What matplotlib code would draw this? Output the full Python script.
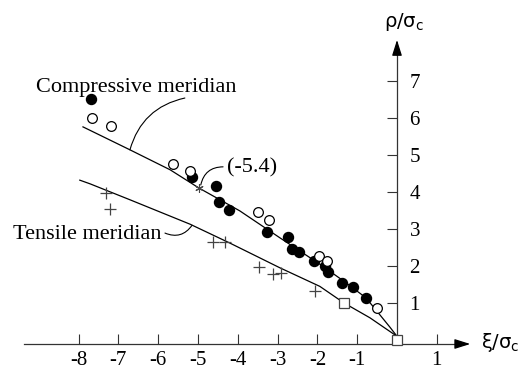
import matplotlib
matplotlib.use('Agg')
import matplotlib.pyplot as plt

# test points (xi/sigma_c, rho/sigma_c)
xi_filled = [-7.69, -5.15, -4.55, -4.47, -4.22, -3.27, -2.74, -2.64, -2.46,
             -2.09, -1.81, -1.73, -1.38, -1.11, -0.78]
rho_filled = [6.51, 4.41, 4.16, 3.73, 3.51, 2.92, 2.78, 2.46, 2.38,
              2.14, 2.00, 1.84, 1.54, 1.43, 1.14]

xi_open = [-7.66, -7.19, -5.63, -5.20, -3.49, -3.22, -1.96, -1.76, -0.50]
rho_open = [6.00, 5.78, 4.76, 4.57, 3.46, 3.24, 2.27, 2.14, 0.87]

xi_plus = [-7.31, -7.21, -4.62, -4.32, -3.47, -3.12, -2.92, -2.06]
rho_plus = [3.97, 3.54, 2.65, 2.65, 1.97, 1.78, 1.81, 1.32]

xi_square = [-1.33, 0.0]
rho_square = [1.0, 0.0]

xi_star = [-4.98]
rho_star = [4.11]

# meridians
xi_comp = [-7.89, -6.71, -5.70, -4.98, -3.95, -2.94, -1.94, -1.31, -0.78,
           -0.43, -0.18, 0.0]
rho_comp = [5.76, 5.14, 4.60, 4.11, 3.49, 2.76, 2.05, 1.57, 1.14,
            0.68, 0.35, 0.1]
xi_tens = [-7.97, -7.71, -6.71, -5.20, -4.20, -2.94, -1.94, -1.33, -0.68,
           -0.30, 0.0]
rho_tens = [4.32, 4.22, 3.79, 3.13, 2.62, 1.95, 1.45, 1.0, 0.60,
            0.32, 0.1]

x_ticks = [-8, -7, -6, -5, -4, -3, -2, -1, 1]
x_ticklabels = ['-8', '-7', '-6', '-5', '-4', '-3', '-2', '-1', '1']
y_ticks = [1, 2, 3, 4, 5, 6, 7]
y_ticklabels = ['1', '2', '3', '4', '5', '6', '7']

plt.rcParams['font.family'] = ['Liberation Serif', 'DejaVu Sans']

fig = plt.figure(figsize=(5.25, 3.71), dpi=100)
ax = fig.add_axes([0, 0, 1, 1])
ax.set_xlim(-397 / 39.8, 128 / 39.8)
ax.set_ylim(-31 / 37, 340 / 37)
ax.patch.set_visible(False)

axc = '#333333'
x_axis_y = -0.108

# axes through the origin
ax.spines['top'].set_visible(False)
ax.spines['left'].set_visible(False)
ax.spines['bottom'].set_position(('data', x_axis_y))
ax.spines['right'].set_position(('data', 0))
ax.spines['bottom'].set_bounds(-9.37, 1.7)
ax.spines['right'].set_bounds(x_axis_y, 7.9)
for s in ('bottom', 'right'):
    ax.spines[s].set_color(axc)
    ax.spines[s].set_linewidth(0.9)
ax.yaxis.tick_right()
ax.set_xticks(x_ticks)
ax.set_xticklabels(x_ticklabels, fontfamily='Liberation Serif')
ax.set_yticks(y_ticks)
ax.set_yticklabels(y_ticklabels, fontfamily='Liberation Serif')
ax.tick_params(axis='x', direction='in', length=7.5, width=0.8, color=axc,
               labelsize=15, pad=5)
ax.tick_params(axis='y', direction='in', length=7.5, width=0.8, color=axc,
               labelsize=15, pad=9)

arrow = dict(arrowstyle='-|>,head_length=0.95,head_width=0.3',
             mutation_scale=10, color='black', lw=0.9,
             shrinkA=0, shrinkB=0)
ax.annotate('', xy=(1.84, x_axis_y), xytext=(1.5, x_axis_y), arrowprops=arrow)
ax.annotate('', xy=(0, 8.11), xytext=(0, 7.7), arrowprops=arrow)

ax.text(2.1, -0.06, 'ξ/σ$_\\mathregular{c}$', family='DejaVu Sans',
        fontsize=14, va='center', ha='left')
ax.text(-0.33, 8.46, 'ρ/σ$_\\mathregular{c}$', family='DejaVu Sans',
        fontsize=14, va='baseline', ha='left')

# meridian curves
ax.plot(xi_comp, rho_comp, color='black', lw=0.9)
ax.plot(xi_tens, rho_tens, color='black', lw=0.9)

# data points
ax.plot(xi_filled, rho_filled, 'o', color='black', ms=7.2, zorder=3)
ax.plot(xi_open, rho_open, 'o', mfc='white', mec='black', mew=0.9, ms=7,
        zorder=3)
ax.plot(xi_plus, rho_plus, '+', color='#444444', ms=8, mew=0.9, zorder=3)
ax.plot(xi_square, rho_square, 's', mfc='white', mec='#444444', mew=0.9,
        ms=6.5, zorder=3)
ax.plot(xi_star, rho_star, marker=(6, 2, 0), color='#444444', ms=6, mew=0.8,
        zorder=3)

# labels with leader lines
lead = dict(arrowstyle='-', color='black', lw=0.8, shrinkA=0, shrinkB=0)
ax.text(-9.07, 6.70, 'Compressive meridian', fontsize=16, va='baseline')
ax.annotate('', xy=(-6.71, 5.14), xytext=(-5.33, 6.54),
            arrowprops=dict(lead, connectionstyle='arc3,rad=0.3'))

ax.text(-4.27, 4.52, '(-5.4)', fontsize=16, va='baseline')
ax.annotate('', xy=(-4.37, 4.68), xytext=(-4.93, 4.19),
            arrowprops=dict(lead, connectionstyle='arc3,rad=-0.4'))

ax.text(-9.65, 2.73, 'Tensile meridian', fontsize=16, va='baseline')
ax.annotate('', xy=(-5.15, 3.10), xytext=(-5.83, 2.89),
            arrowprops=dict(lead, connectionstyle='arc3,rad=0.4'))

fig.savefig('out.png', dpi=100)
